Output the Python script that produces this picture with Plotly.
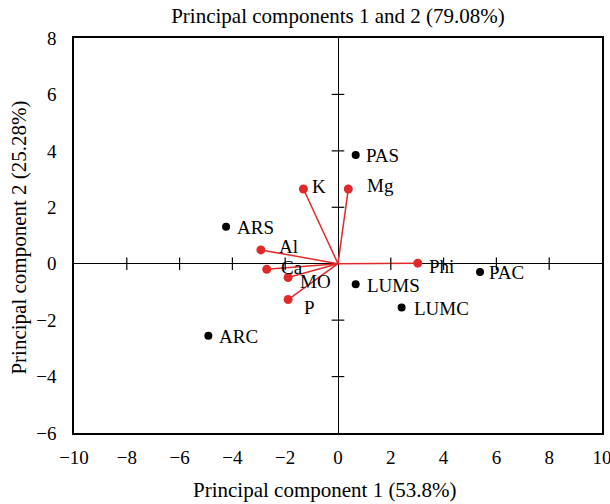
import plotly.graph_objects as go

# Sample scores (black points)
sample_names = ["PAS", "ARS", "ARC", "LUMS", "LUMC", "PAC"]
sample_x = [0.67, -4.24, -4.91, 0.67, 2.41, 5.38]
sample_y = [3.85, 1.31, -2.55, -0.73, -1.55, -0.29]

# Variable loadings (red vectors)
var_names = ["K", "Mg", "Al", "Ca", "MO", "P", "Phi"]
var_x = [-1.31, 0.39, -2.92, -2.70, -1.89, -1.89, 3.02]
var_y = [2.65, 2.65, 0.49, -0.20, -0.49, -1.27, 0.02]

x_ticks = [-10, -8, -6, -4, -2, 0, 2, 4, 6, 8, 10]
y_ticks = [-6, -4, -2, 0, 2, 4, 6, 8]

# label offsets in pixels (style)
sample_shift = {"PAS": (8, 0), "ARS": (9, -1), "ARC": (9, -1), "LUMS": (9, -1),
                "LUMC": (10, -1), "PAC": (7, -1)}
var_shift = {"K": (7, 2), "Mg": (17, 3), "Al": (16, 3), "Ca": (12, 2),
             "MO": (10, -4), "P": (14, -8), "Phi": (9, -3)}

FONT = "Liberation Serif"
RED = "#e02a2a"
LBL = 19

fig = go.Figure()

# loading vectors
lx, ly = [], []
for x, y in zip(var_x, var_y):
    lx += [0, x, None]
    ly += [0, y, None]
fig.add_trace(go.Scatter(x=lx, y=ly, mode="lines", line=dict(color=RED, width=1.5),
                         hoverinfo="skip", showlegend=False))

# tick marks on the zero lines
xt = [v for v in x_ticks if v not in (0, x_ticks[0], x_ticks[-1])]
yt = [v for v in y_ticks if v not in (0, y_ticks[0], y_ticks[-1])]
fig.add_trace(go.Scatter(x=xt, y=[0] * len(xt), mode="markers",
                         marker=dict(symbol="line-ns", size=9, line=dict(color="black", width=1.2)),
                         hoverinfo="skip", showlegend=False))
fig.add_trace(go.Scatter(x=[0] * len(yt), y=yt, mode="markers",
                         marker=dict(symbol="line-ew", size=9, line=dict(color="black", width=1.2)),
                         hoverinfo="skip", showlegend=False))

fig.add_trace(go.Scatter(x=var_x, y=var_y, mode="markers",
                         marker=dict(color=RED, size=9), showlegend=False))
fig.add_trace(go.Scatter(x=sample_x, y=sample_y, mode="markers",
                         marker=dict(color="black", size=8), showlegend=False))

for n, x, y in zip(sample_names, sample_x, sample_y):
    dx, dy = sample_shift[n]
    fig.add_annotation(x=x, y=y, text=n, showarrow=False, xanchor="left", yanchor="middle",
                       xshift=dx, yshift=dy, font=dict(family=FONT, size=LBL, color="black"))
for n, x, y in zip(var_names, var_x, var_y):
    dx, dy = var_shift[n]
    fig.add_annotation(x=x, y=y, text=n, showarrow=False, xanchor="left", yanchor="middle",
                       xshift=dx, yshift=dy, font=dict(family=FONT, size=LBL, color="black"))

# axis titles
fig.add_annotation(text="Principal component 1 (53.8%)", xref="paper", yref="paper",
                   x=0.475, y=-0.145, showarrow=False, xanchor="center", yanchor="middle",
                   font=dict(family=FONT, size=21, color="black"))
fig.add_annotation(text="Principal component 2 (25.28%)", xref="paper", yref="paper",
                   x=-0.104, y=0.495, showarrow=False, textangle=-90, xanchor="center",
                   yanchor="middle", font=dict(family=FONT, size=21, color="black"))

axis_common = dict(showgrid=False, zeroline=True, zerolinecolor="black", zerolinewidth=1.2,
                   showline=True, linecolor="black", linewidth=1.5, mirror=True,
                   automargin=False, ticklabeloverflow="allow",
                   ticks="", tickfont=dict(family=FONT, size=19, color="black"))

fig.update_layout(
    width=610, height=504, autosize=False,
    margin=dict(l=74, r=8, t=38, b=71),
    paper_bgcolor="white", plot_bgcolor="white",
    title=dict(text="Principal components 1 and 2 (79.08%)", x=0.5, xref="paper",
               y=1 - 16 / 504, yref="container", xanchor="center", yanchor="middle",
               automargin=False,
               font=dict(family=FONT, size=21, color="black")),
    xaxis=dict(range=[x_ticks[0], x_ticks[-1]], tickvals=x_ticks, ticklabelstandoff=6,
               ticktext=[str(v).replace("-", "\u2212") for v in x_ticks], **axis_common),
    yaxis=dict(range=[y_ticks[0], y_ticks[-1]], tickvals=y_ticks, ticklabelstandoff=12,
               ticktext=[str(v).replace("-", "\u2212") for v in y_ticks], **axis_common),
)

post = ("document.documentElement.style.margin='0';document.body.style.margin='0';"
        "document.documentElement.style.overflow='hidden';document.body.style.overflow='hidden';"
        "var gd=document.getElementById('{plot_id}');"
        "Plotly.relayout(gd,{width:610,height:504});")
fig.write_html("out.html", config={"displayModeBar": False, "responsive": False},
               post_script=post)
